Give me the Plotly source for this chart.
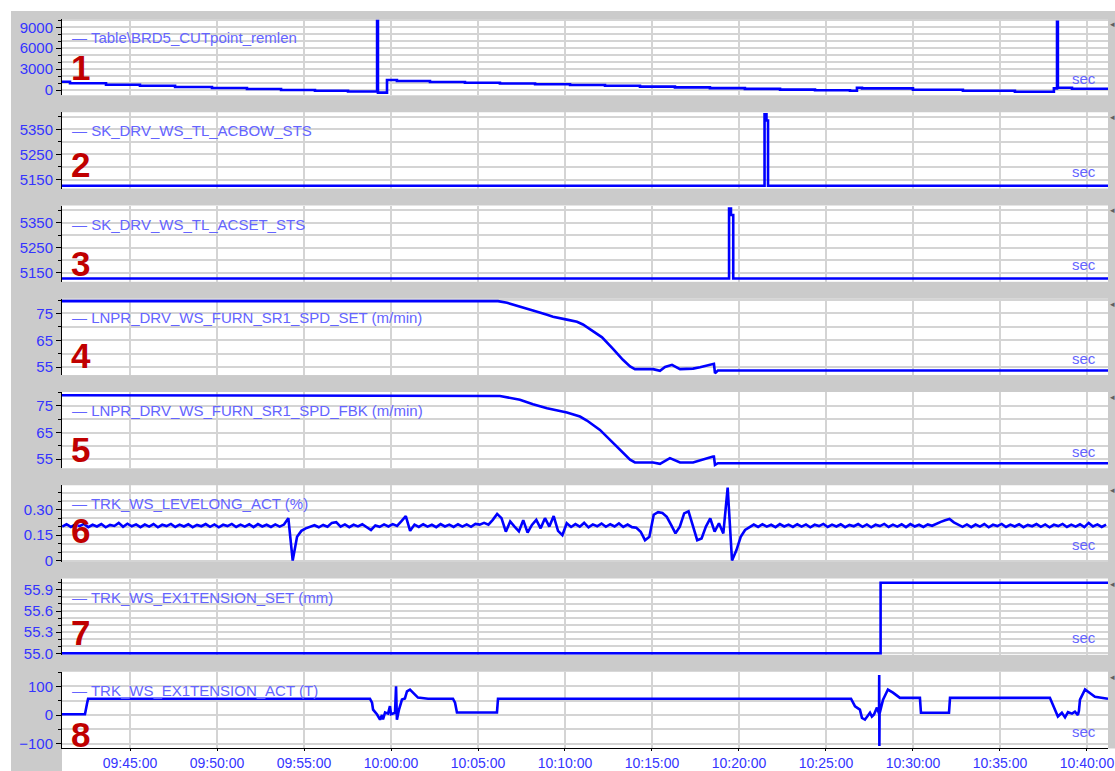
import pandas as pd
import plotly.graph_objects as go
from plotly.subplots import make_subplots

# ---------------- data (time = minutes relative to 10:00:00) ----------------
p1_name = "Table\\BRD5_CUTpoint_remlen"
p1_t = [-18.91, -18.45, -16.38, -14.43, -12.41, -10.29, -8.28, -6.32, -4.37, -2.47,
        -0.80, -0.75, -0.23, 0.34, 2.24, 4.25, 6.26, 8.28, 10.29, 12.30,
        14.31, 16.32, 18.33, 20.34, 22.36, 24.37, 26.38, 26.78, 27.07, 30.00,
        32.87, 35.86, 38.10, 38.28, 38.33, 39.14, 41.21]
p1_v = [1190, 960, 760, 620, 430, 290, 140, 10, -100, -220,
        9900, -380, 1430, 1290, 1150, 1040, 930, 820, 710, 600,
        490, 380, 270, 160, 60, -30, -100, 330, 240, 40,
        -100, -240, 240, 9800, 330, 190, 190]

p2_name = "SK_DRV_WS_TL_ACBOW_STS"
p2_t = [-18.91, 21.47, 21.58, 21.67, 41.21]
p2_v = [5125, 5410, 5385, 5125, 5125]

p3_name = "SK_DRV_WS_TL_ACSET_STS"
p3_t = [-18.91, 19.43, 19.54, 19.67, 41.21]
p3_v = [5127, 5406, 5380, 5127, 5127]

p4_name = "LNPR_DRV_WS_FURN_SR1_SPD_SET (m/min)"
p4_t = [-18.91, 6.15, 6.67, 7.41, 8.16, 8.97, 9.31, 10.11, 10.69, 11.03,
        11.61, 12.13, 12.76, 13.33, 13.74, 14.02, 15.06, 15.46, 15.75, 16.15,
        16.61, 17.36, 17.76, 18.51, 18.56, 18.62, 18.79, 41.21]
p4_v = [79.6, 79.6, 79.0, 77.7, 76.1, 74.5, 73.8, 72.7, 71.9, 70.9,
        68.4, 66.1, 61.8, 57.7, 55.2, 54.2, 54.2, 53.6, 55.0, 55.8,
        54.2, 54.4, 54.9, 56.2, 56.2, 52.7, 53.7, 53.7]

p5_name = "LNPR_DRV_WS_FURN_SR1_SPD_FBK (m/min)"
p5_t = [-18.91, 6.26, 7.41, 8.16, 8.97, 10.11, 10.86, 11.26, 12.01, 12.76,
        13.33, 13.74, 14.02, 15.06, 15.46, 16.03, 16.61, 17.36, 18.51, 18.56,
        18.62, 18.79, 41.21]
p5_v = [79.0, 78.7, 77.3, 75.6, 74.1, 72.5, 71.0, 69.5, 66.0, 61.0,
        57.3, 54.8, 53.8, 53.8, 53.3, 55.4, 53.8, 53.8, 56.0, 56.0,
        52.9, 53.5, 53.5]

p6_name = "TRK_WS_LEVELONG_ACT (%)"
p6_start_min = -18.90      # first logged sample
p6_step_s = 15             # logging period (s)
p6_v = [
    0.200, 0.214, 0.198, 0.212, 0.203, 0.216, 0.197, 0.211, 0.201, 0.215,
    0.196, 0.210, 0.204, 0.222, 0.199, 0.217, 0.202, 0.213, 0.197, 0.212,
    0.200, 0.215, 0.196, 0.211, 0.203, 0.216, 0.198, 0.212, 0.201, 0.214,
    0.197, 0.210, 0.202, 0.215, 0.199, 0.213, 0.196, 0.211, 0.203, 0.216,
    0.198, 0.212, 0.200, 0.214, 0.197, 0.215, 0.201, 0.211, 0.198, 0.213,
    0.200, 0.212,
    0.250, 0.000, 0.140, 0.175, 0.190, 0.198, 0.208, 0.196, 0.210, 0.199,
    0.222, 0.226, 0.200, 0.213, 0.197, 0.211, 0.201, 0.214, 0.198,
    0.180, 0.207, 0.199, 0.213, 0.201, 0.215, 0.204,
    0.232, 0.262, 0.175,
    0.212, 0.198, 0.214, 0.200, 0.211, 0.197, 0.215, 0.201, 0.212, 0.198,
    0.214, 0.200, 0.213, 0.199, 0.216, 0.212,
    0.222, 0.212, 0.240, 0.275, 0.250, 0.170, 0.230, 0.200, 0.172, 0.238,
    0.165, 0.210, 0.240, 0.190, 0.250, 0.200, 0.262, 0.175, 0.150, 0.220,
    0.198, 0.215, 0.200, 0.222, 0.196, 0.213, 0.202, 0.218, 0.199, 0.214,
    0.201, 0.219, 0.198, 0.212, 0.197, 0.193,
    0.170, 0.120, 0.140, 0.270, 0.285, 0.280, 0.258, 0.210, 0.160, 0.200,
    0.278, 0.290, 0.200, 0.120, 0.130, 0.200, 0.248, 0.170, 0.220, 0.160,
    0.430, 0.000, 0.060, 0.140, 0.180, 0.197,
    0.212, 0.198, 0.214, 0.200, 0.211, 0.197, 0.215, 0.201, 0.212, 0.198,
    0.214, 0.200, 0.213, 0.196, 0.211, 0.203, 0.216, 0.198, 0.212, 0.201,
    0.214, 0.197, 0.210, 0.202, 0.215, 0.199, 0.213, 0.196, 0.211, 0.203,
    0.216, 0.198, 0.212, 0.200, 0.214, 0.197, 0.215, 0.201, 0.211, 0.198,
    0.213, 0.205, 0.218, 0.228, 0.238, 0.245, 0.225, 0.212, 0.199, 0.213,
    0.197, 0.212, 0.200, 0.215, 0.196, 0.211, 0.203, 0.216, 0.198, 0.212,
    0.201, 0.214, 0.197, 0.210, 0.202, 0.215, 0.199, 0.213, 0.196, 0.211,
    0.203, 0.216, 0.198, 0.212, 0.200, 0.214, 0.197, 0.222, 0.201, 0.213,
    0.198, 0.212]

p7_name = "TRK_WS_EX1TENSION_SET (mm)"
p7_t = [-18.91, 28.14, 41.21]
p7_v = [55.0, 56.0, 56.0]

p8_name = "TRK_WS_EX1TENSION_ACT (T)"
p8_t = [-18.91, -17.59, -17.47, -17.41, -1.21, -1.09, -1.03, -0.80, -0.63, -0.52,
        -0.46, -0.34, -0.17, -0.06, 0.00, 0.23, 0.29, 0.34, 0.46, 0.63,
        0.80, 0.92, 1.09, 1.26, 1.55, 2.13, 3.56, 3.68, 3.79, 6.09,
        6.15, 26.44, 26.67, 26.95, 27.07, 27.24, 27.41, 27.53, 27.64, 27.76,
        27.93, 28.05, 28.06, 28.07, 28.08, 28.28, 28.56, 28.85, 29.25, 30.40,
        30.46, 32.07, 32.13, 37.87, 38.10, 38.33, 38.56, 38.74, 38.91, 39.14,
        39.31, 39.48, 39.54, 39.60, 39.89, 40.17, 40.46, 41.21]
p8_v = [3, 3, 40, 57, 57, 43, 19, 2, -16, 0,
        -15, 9, 5, 31, 3, 8, 100, -16, 19, 54,
        58, 83, 89, 78, 61, 57, 57, 43, 9, 9,
        57, 57, 30, 19, -10, -16, 0, 8, -5, 2,
        26, 5, 140, -108, 5, 54, 89, 78, 60, 60,
        8, 8, 60, 60, 30, -5, 8, -8, 10, 5,
        12, 0, 15, 54, 89, 78, 64, 57]

# tick labels
p1_ticks = [0, 3000, 6000, 9000]
p23_ticks = [5150, 5250, 5350]
p45_ticks = [55, 65, 75]
p6_ticks = [0, 0.15, 0.30]
p6_ticktext = ["0", "0.15", "0.30"]
p7_ticks = [55.0, 55.3, 55.6, 55.9]
p7_ticktext = ["55.0", "55.3", "55.6", "55.9"]
p8_ticks = [-100, 0, 100]
panel_labels = ["1", "2", "3", "4", "5", "6", "7", "8"]

# ---------------- helpers ----------------
T0 = pd.Timestamp("2024-01-01 10:00:00")


def ts(mins):
    return [(T0 + pd.Timedelta(minutes=m)).strftime("%Y-%m-%d %H:%M:%S.%f") for m in mins]


p6_t_abs = [(T0 + pd.Timedelta(minutes=p6_start_min) + pd.Timedelta(seconds=p6_step_s * k))
            .strftime("%Y-%m-%d %H:%M:%S") for k in range(len(p6_v))]

W, H = 1115, 771
FONT = "Arial, 'Liberation Sans', sans-serif"
BLUE = "#0000ff"
TICK_BLUE = "#3434ff"
TEXT_BLUE = "#6464ff"
GRID = "#d4d4d4"
GRAY = "#cbcbcb"

series = [
    (p1_name, ts(p1_t), p1_v, "hv"),
    (p2_name, ts(p2_t), p2_v, "hv"),
    (p3_name, ts(p3_t), p3_v, "hv"),
    (p4_name, ts(p4_t), p4_v, "linear"),
    (p5_name, ts(p5_t), p5_v, "linear"),
    (p6_name, p6_t_abs, p6_v, "linear"),
    (p7_name, ts(p7_t), p7_v, "hv"),
    (p8_name, ts(p8_t), p8_v, "linear"),
]

yaxes_cfg = [
    dict(range=[-760, 10190], tickvals=p1_ticks, minor_dtick=1000, minor_tick0=0),
    dict(range=[5114, 5418], tickvals=p23_ticks, minor_dtick=50, minor_tick0=5150),
    dict(range=[5114, 5418], tickvals=p23_ticks, minor_dtick=50, minor_tick0=5150),
    dict(range=[52.0, 80.5], tickvals=p45_ticks, minor_dtick=5, minor_tick0=55),
    dict(range=[51.6, 80.2], tickvals=p45_ticks, minor_dtick=5, minor_tick0=55),
    dict(range=[-0.006, 0.444], tickvals=p6_ticks, ticktext=p6_ticktext, minor_dtick=0.05, minor_tick0=0),
    dict(range=[54.98, 56.06], tickvals=p7_ticks, ticktext=p7_ticktext, minor_dtick=0.1, minor_tick0=55.0),
    dict(range=[-115, 151], tickvals=p8_ticks, minor_dtick=50, minor_tick0=0),
]

label_y_px = [67.5, 164.5, 263, 355.5, 449, 530, 632.5, 734]

fig = make_subplots(rows=8, cols=1, shared_xaxes=True, vertical_spacing=0.01)

x_left, x_right = 62, 1108
x_range = ts([-18.91, 41.21])

annotations = []
for i, (name, xs, ys, shape) in enumerate(series):
    fig.add_trace(go.Scatter(x=xs, y=ys, mode="lines", name=name,
                             line=dict(color=BLUE, width=2.6, shape=shape),
                             showlegend=False), row=i + 1, col=1)
    top = 19 + 93.25 * i
    bot = top + 76.3
    cfg = yaxes_cfg[i]
    ykey = "yaxis" if i == 0 else f"yaxis{i + 1}"
    xkey = "xaxis" if i == 0 else f"xaxis{i + 1}"
    yax = dict(domain=[1 - bot / H, 1 - top / H], range=cfg["range"], autorange=False,
               tickmode="array", tickvals=cfg["tickvals"],
               showline=True, linecolor="#000000", linewidth=1,
               ticks="outside", ticklen=5, tickcolor="#000000", tickwidth=1,
               showgrid=True, gridcolor=GRID, gridwidth=1.5, zeroline=False,
               tickfont=dict(family=FONT, size=15, color=TICK_BLUE),
               automargin=False, fixedrange=True,
               minor=dict(tickmode="linear", tick0=cfg["minor_tick0"], dtick=cfg["minor_dtick"],
                          ticks="outside", ticklen=3, tickcolor="#000000",
                          showgrid=True, gridcolor=GRID, gridwidth=1.5))
    if "ticktext" in cfg:
        yax["ticktext"] = cfg["ticktext"]
    fig.layout[ykey].update(yax)
    is_bottom = (i == 7)
    fig.layout[xkey].update(dict(
        domain=[x_left / W, x_right / W], type="date", range=x_range, autorange=False,
        tickmode="linear", tick0="2024-01-01 09:45:00", dtick=300000,
        tickformat="%H:%M:%S", showgrid=True, gridcolor=GRID, gridwidth=1.5,
        zeroline=False, showline=is_bottom, linecolor="#000000", linewidth=1,
        ticks="outside" if is_bottom else "", ticklen=2, tickcolor="#000000",
        showticklabels=is_bottom, ticklabeloverflow="allow",
        tickfont=dict(family=FONT, size=14, color=TICK_BLUE),
        automargin=False, fixedrange=True))

    # legend-like caption
    annotations.append(dict(xref="paper", yref="paper", x=70 / W, y=1 - (top + 18.5) / H,
                            xanchor="left", yanchor="middle", showarrow=False,
                            text="\u2014 " + name,
                            font=dict(family=FONT, size=15, color=TEXT_BLUE)))
    # "sec" unit label
    annotations.append(dict(xref="paper", yref="paper", x=1084 / W, y=1 - (bot - 17) / H,
                            xanchor="center", yanchor="middle", showarrow=False,
                            text="sec", font=dict(family=FONT, size=15, color=TEXT_BLUE)))
    # big red panel number
    annotations.append(dict(xref="paper", yref="paper", x=69 / W, y=1 - label_y_px[i] / H,
                            xanchor="left", yanchor="middle", showarrow=False,
                            text="<b>" + panel_labels[i] + "</b>",
                            font=dict(family=FONT, size=35, color="#c00000")))
    # small marker at right edge
    annotations.append(dict(xref="paper", yref="paper", x=1112 / W, y=1 - (top + 5) / H,
                            xanchor="center", yanchor="middle", showarrow=False,
                            text="\u25c2", font=dict(family=FONT, size=9, color="#606060")))

shapes = [
    dict(type="rect", xref="paper", yref="paper", x0=0, x1=1, y0=1 - 11 / H, y1=1,
         fillcolor="white", line=dict(width=0), layer="below"),
    dict(type="rect", xref="paper", yref="paper", x0=0, x1=11 / W, y0=0, y1=1,
         fillcolor="white", line=dict(width=0), layer="below"),
    dict(type="rect", xref="paper", yref="paper", x0=x_left / W, x1=1, y0=0, y1=1 - 748.6 / H,
         fillcolor="white", line=dict(width=0), layer="below"),
]

fig.update_layout(width=W, height=H, margin=dict(l=0, r=0, t=0, b=0, autoexpand=False),
                  paper_bgcolor=GRAY, plot_bgcolor="white",
                  annotations=annotations, shapes=shapes, showlegend=False,
                  font=dict(family=FONT))

fig.write_html("out.html", config={"displayModeBar": False},
               post_script="document.body.style.margin='0';document.body.style.overflow='hidden';")
